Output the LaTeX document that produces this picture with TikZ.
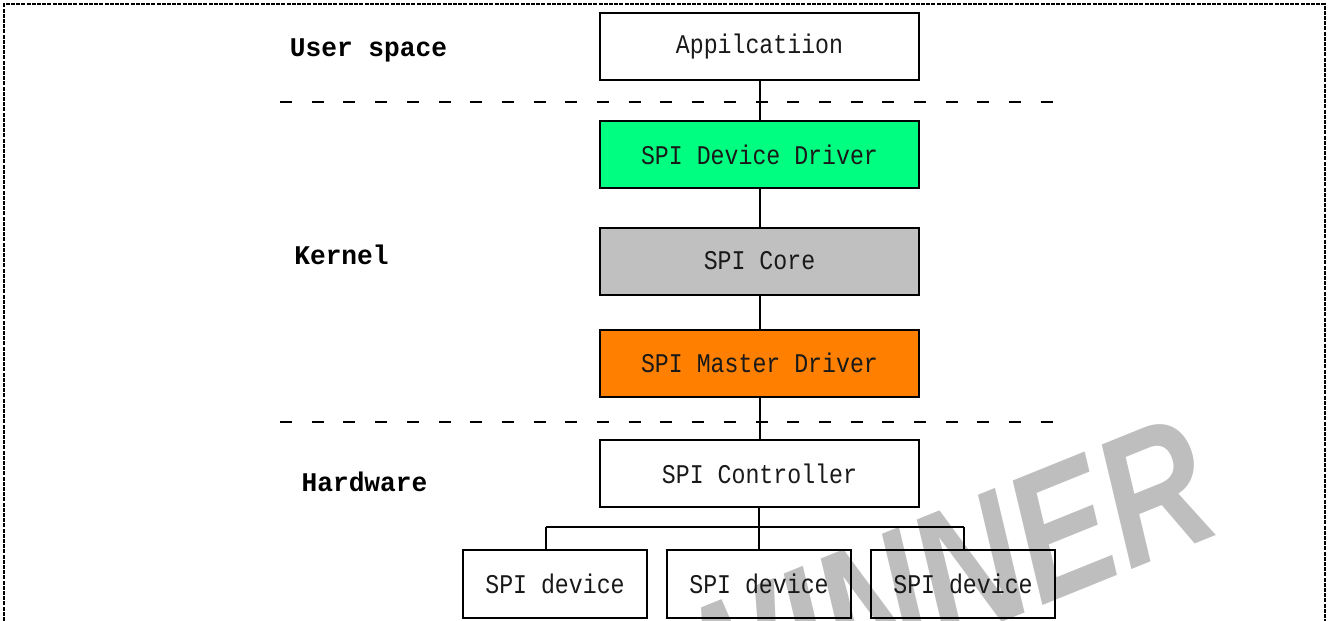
\documentclass[tikz,border=0pt]{standalone}
\usepackage{fontspec}
\newfontfamily\boxfont[FakeStretch=0.86]{Liberation Mono}
\newfontfamily\labfont[FakeStretch=0.97]{Liberation Mono}
\newfontfamily\wmfont[FakeStretch=0.78]{Liberation Sans}
\definecolor{ddgreen}{RGB}{0,255,128}
\definecolor{coregray}{RGB}{192,192,192}
\definecolor{mdorange}{RGB}{255,128,0}
\definecolor{wmgray}{RGB}{190,190,190}
\begin{document}
\begin{tikzpicture}[x=0.5pt,y=-0.5pt,
  layerbox/.style={draw, line width=1pt, minimum width=159.5pt, minimum height=33.5pt, inner sep=0pt,
    font=\boxfont\fontsize{13.5}{14}\selectfont, text=black!90},
  devbox/.style={draw, line width=1pt, minimum width=92pt, minimum height=34pt, inner sep=0pt,
    font=\boxfont\fontsize{13.5}{14}\selectfont, text=black!90},
  layerlab/.style={inner sep=0pt, font=\labfont\bfseries\fontsize{13.5}{14}\selectfont},
  conn/.style={line width=1pt},
  sep/.style={line width=1pt, dash pattern=on 6pt off 9.85pt},
  frame/.style={line width=0.9pt, dash pattern=on 2pt off 0.6pt},
  watermark/.style={inner sep=0pt, text=wmgray, font=\wmfont\bfseries\itshape\fontsize{92}{92}\selectfont}
]
\useasboundingbox (0,0) rectangle (1330,621);
% watermark
\begin{scope}
\clip (0,0) rectangle (1330,621);
\node[watermark, anchor=base east, rotate=22] (wm) at (1226,532) {ALLWINNER};
\end{scope}
% frame
\draw[frame] (4,621) -- (4,4) -- (1325,4) -- (1325,621);
% layer separators
\draw[sep] (280,102) -- (1058,102);
\draw[sep] (280,422) -- (1058,422);
% labels
\node[layerlab] (us) at (368.5,50) {User space};
\node[layerlab] (kern) at (341.5,255) {Kernel};
\node[layerlab] (hw) at (364.5,482) {Hardware};
% boxes
\node[layerbox] (app) at (759.5,46.5) {Appilcatiion};
\node[layerbox, fill=ddgreen] (sdd) at (759.5,154.5) {SPI Device Driver};
\node[layerbox, fill=coregray] (core) at (759.5,261) {SPI Core};
\node[layerbox, fill=mdorange] (smd) at (759.5,363) {SPI Master Driver};
\node[layerbox] (ctrl) at (759.5,473.5) {SPI Controller};
\node[devbox] (dev1) at (555,584) {SPI device};
\node[devbox] (dev2) at (759,584) {SPI device};
\node[devbox] (dev3) at (963,584) {SPI device};
% connectors
\draw[conn] (app) -- (sdd);
\draw[conn] (sdd) -- (core);
\draw[conn] (core) -- (smd);
\draw[conn] (smd) -- (ctrl);
\coordinate (busL) at (546,527);
\coordinate (busR) at (963.5,527);
\draw[conn] (ctrl.south -| dev2) -- (dev2.north);
\draw[conn] (busL) -- (busR);
\draw[conn] (busL) -- (busL |- dev1.north);
\draw[conn] (busR) -- (busR |- dev3.north);
\end{tikzpicture}
\end{document}
